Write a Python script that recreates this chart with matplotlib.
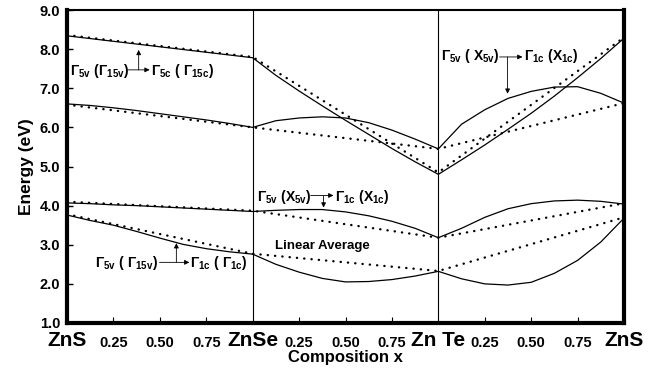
import matplotlib
matplotlib.use('Agg')
import matplotlib.pyplot as plt
import numpy as np

plt.rcParams['font.family'] = 'Liberation Sans'
plt.rcParams['font.weight'] = 'bold'
plt.rcParams['axes.labelweight'] = 'bold'
plt.rcParams['mathtext.fontset'] = 'custom'
plt.rcParams['mathtext.rm'] = 'Liberation Sans:bold'
plt.rcParams['mathtext.it'] = 'Liberation Sans:bold'
plt.rcParams['mathtext.bf'] = 'Liberation Sans:bold'

# composition inside each segment (ZnS-ZnSe, ZnSe-ZnTe, ZnTe-ZnS)
frac = [0, 0.125, 0.25, 0.375, 0.5, 0.625, 0.75, 0.875, 1.0]
compounds = ['ZnS', 'ZnSe', 'Zn Te', 'ZnS']
comp_ticks = [0.25, 0.5, 0.75]
comp_labels = ['0.25', '0.50', '0.75']

# calculated gaps (solid), one list per segment
g15c = [[8.34, 8.27, 8.20, 8.13, 8.06, 7.99, 7.92, 7.85, 7.78],
        [7.78, 7.33, 6.93, 6.55, 6.18, 5.82, 5.46, 5.12, 4.80],
        [4.80, 5.17, 5.55, 5.95, 6.36, 6.80, 7.27, 7.76, 8.28]]
x1c_up = [[6.60, 6.56, 6.50, 6.43, 6.35, 6.27, 6.19, 6.10, 6.00],
          [6.00, 6.17, 6.24, 6.27, 6.24, 6.12, 5.93, 5.70, 5.45],
          [5.45, 6.08, 6.45, 6.74, 6.92, 7.03, 7.04, 6.87, 6.62]]
x1c_low = [[4.07, 4.05, 4.02, 4.00, 3.97, 3.94, 3.91, 3.88, 3.85],
           [3.85, 3.88, 3.90, 3.90, 3.84, 3.74, 3.60, 3.42, 3.18],
           [3.18, 3.42, 3.70, 3.92, 4.05, 4.12, 4.14, 4.11, 4.04]]
g1c = [[3.76, 3.62, 3.50, 3.34, 3.17, 3.01, 2.90, 2.82, 2.76],
       [2.76, 2.50, 2.30, 2.14, 2.05, 2.06, 2.11, 2.20, 2.32],
       [2.32, 2.13, 2.00, 1.97, 2.04, 2.27, 2.60, 3.07, 3.68]]

# linear average, value at each end compound
g15c_lin = [8.36, 7.80, 4.85, 8.30]
x1c_up_lin = [6.58, 6.00, 5.45, 6.62]
x1c_low_lin = [4.10, 3.87, 3.18, 4.06]
g1c_lin = [3.78, 2.77, 2.33, 3.70]

fig = plt.figure(figsize=(6.52, 3.75), dpi=100)
ax = fig.add_axes([67 / 652, 1 - 323 / 375, 557 / 652, 313 / 375])

xs = np.concatenate([np.array(frac) + i for i in range(3)])
for band in [g15c, x1c_up, x1c_low, g1c]:
    ax.plot(xs, np.concatenate(band), color='k', lw=0.9)
for lin in [g15c_lin, x1c_up_lin, x1c_low_lin, g1c_lin]:
    ax.plot(range(len(compounds)), lin, color='k', lw=1.7,
            ls=(0, (0.1, 3.0)), dash_capstyle='round')

ax.axvline(1, color='k', lw=0.8)
ax.axvline(2, color='k', lw=0.8)

ax.set_xlim(0, 3)
ax.set_ylim(1, 9)
ax.set_xticks(range(len(compounds)))
ax.set_xticklabels(compounds, fontsize=15)
ax.set_xticks([i + t for i in range(3) for t in comp_ticks], minor=True)
ax.set_xticklabels(comp_labels * 3, minor=True, fontsize=10.5)
ax.tick_params(axis='x', which='major', direction='in', length=0, pad=5.5)
ax.tick_params(axis='x', which='minor', direction='in', length=4.5, width=0.8, pad=9.5)
yt = np.arange(1, 10)
ax.set_yticks(yt)
ax.set_yticklabels([f'{v:.1f}' for v in yt], fontsize=10.5)
ax.tick_params(axis='y', direction='in', length=4, width=1, pad=5)

for side in ['left', 'bottom', 'right']:
    ax.spines[side].set_linewidth(3)
ax.spines['top'].set_linewidth(1.5)

ax.set_xlabel('Composition x', fontsize=12, labelpad=0)
ax.set_ylabel('Energy (eV)', fontsize=12.5, labelpad=4)

arr = dict(arrowstyle='-|>', color='k', lw=0.6, mutation_scale=7, shrinkA=0, shrinkB=0)
tk = dict(fontsize=10, va='center', ha='left')

# Gamma15v -> Gamma15c
ax.text(0.015, 7.45, r'$\Gamma_{5v}$ ($\Gamma_{15v}$)', **tk)
ax.annotate('', xy=(0.445, 7.47), xytext=(0.327, 7.47), arrowprops=arr)
ax.annotate('', xy=(0.386, 7.98), xytext=(0.386, 7.47), arrowprops=arr)
ax.text(0.45, 7.45, r'$\Gamma_{5c}$ ( $\Gamma_{15c}$)', **tk)

# X5v -> X1c (upper right)
ax.text(2.014, 7.83, r'$\Gamma_{5v}$ ( X$_{5v}$)', **tk)
ax.annotate('', xy=(2.453, 7.80), xytext=(2.33, 7.80), arrowprops=arr)
ax.annotate('', xy=(2.373, 6.86), xytext=(2.373, 7.80), arrowprops=arr)
ax.text(2.464, 7.83, r'$\Gamma_{1c}$ (X$_{1c}$)', **tk)

# X5v -> X1c (middle)
ax.text(1.023, 4.21, r'$\Gamma_{5v}$ (X$_{5v}$)', **tk)
ax.annotate('', xy=(1.435, 4.26), xytext=(1.312, 4.26), arrowprops=arr)
ax.annotate('', xy=(1.382, 3.95), xytext=(1.382, 4.26), arrowprops=arr)
ax.text(1.446, 4.21, r'$\Gamma_{1c}$ (X$_{1c}$)', **tk)

ax.text(1.377, 2.96, 'Linear Average', fontsize=9.5, ha='center', va='center')

# Gamma15v -> Gamma1c
ax.text(0.15, 2.53, r'$\Gamma_{5v}$ ( $\Gamma_{15v}$)', **tk)
ax.annotate('', xy=(0.659, 2.55), xytext=(0.498, 2.55), arrowprops=arr)
ax.annotate('', xy=(0.589, 3.04), xytext=(0.589, 2.55), arrowprops=arr)
ax.text(0.664, 2.53, r'$\Gamma_{1c}$ ( $\Gamma_{1c}$)', **tk)

fig.savefig('out.png', dpi=100)
